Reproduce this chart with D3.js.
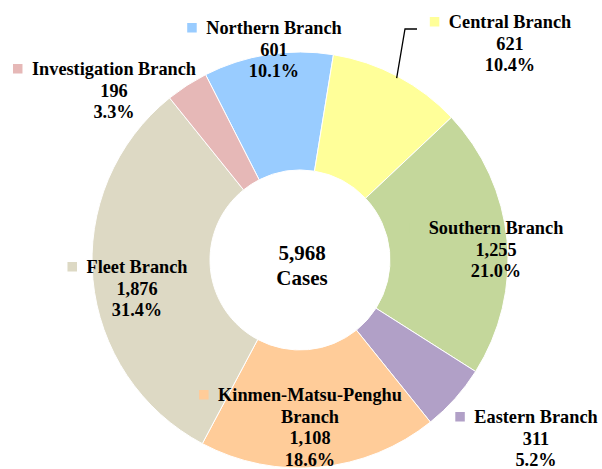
<!DOCTYPE html>
<html>
<head>
<meta charset="utf-8">
<script src="https://cdn.jsdelivr.net/npm/d3@7"></script>
<style>
  html, body { margin: 0; padding: 0; background: #fff; }
  svg { display: block; }
  text { font-family: "Liberation Serif", "Times New Roman", serif; font-weight: bold; fill: #000; }
</style>
</head>
<body>
<svg id="chart" width="602" height="469"></svg>
<script>
// ---- data ----
const categories = ["Northern Branch", "Central Branch", "Southern Branch", "Eastern Branch",
                    "Kinmen-Matsu-Penghu|Branch", "Fleet Branch", "Investigation Branch"];
const values = [601, 621, 1255, 311, 1108, 1876, 196];
const colors = ["#99CCFF", "#FFFF99", "#C4D79B", "#B1A0C7", "#FFCC99", "#DDD9C4", "#E6B8B7"];
const centerLabel = ["5,968", "Cases"];

// ---- layout (label anchor: centre x, first baseline y) ----
const labelPos = [[274, 34], [510, 28], [496, 234], [536, 423], [310, 401], [137, 273], [114, 75]];

const width = 602, height = 469;
const cx = 300, cy = 260, outerR = 208, innerR = 90;
const startDeg = -27;
const fontSize = 18.3, lineH = 21.5;

const svg = d3.select("#chart");
const total = d3.sum(values);

const pie = d3.pie().sort(null).value(d => d)
  .startAngle(startDeg * Math.PI / 180)
  .endAngle(startDeg * Math.PI / 180 + 2 * Math.PI);
const arcs = pie(values);
const arc = d3.arc().innerRadius(innerR).outerRadius(outerR);

const g = svg.append("g").attr("transform", `translate(${cx},${cy})`);
g.selectAll("path").data(arcs).join("path")
  .attr("d", arc)
  .attr("fill", (d, i) => colors[i])
  .attr("stroke", "#fff")
  .attr("stroke-width", 1);

// leader line for Central Branch (from slice edge at mid-angle)
{
  const c = arcs[1];
  const a = (c.startAngle + c.endAngle) / 2;
  const px = cx + Math.sin(a) * (outerR - 2), py = cy - Math.cos(a) * (outerR - 2);
  svg.append("polyline")
    .attr("points", `${px},${py} 405,29 417,29`)
    .attr("fill", "none").attr("stroke", "#000").attr("stroke-width", 1.3);
}

const fmt = d3.format(",");
const pct = d3.format(".1%");

categories.forEach((name, i) => {
  const lines = name.split("|").concat([fmt(values[i]), pct(values[i] / total)]);
  const [x, y] = labelPos[i];
  const t = svg.append("text")
    .attr("text-anchor", "middle")
    .attr("font-size", fontSize);
  lines.forEach((ln, k) => {
    t.append("tspan").attr("x", x).attr("y", y + k * lineH).text(ln);
  });
  // legend key left of first line
  const first = t.select("tspan").node();
  const w = first.getComputedTextLength();
  svg.append("rect")
    .attr("x", x - w / 2 - 19)
    .attr("y", y - 11)
    .attr("width", 9.5).attr("height", 9.5)
    .attr("fill", colors[i]);
});

const ct = svg.append("text").attr("text-anchor", "middle").attr("font-size", 21);
centerLabel.forEach((ln, k) => {
  ct.append("tspan").attr("x", 302).attr("y", 260 + k * 25).text(ln);
});
</script>
</body>
</html>
